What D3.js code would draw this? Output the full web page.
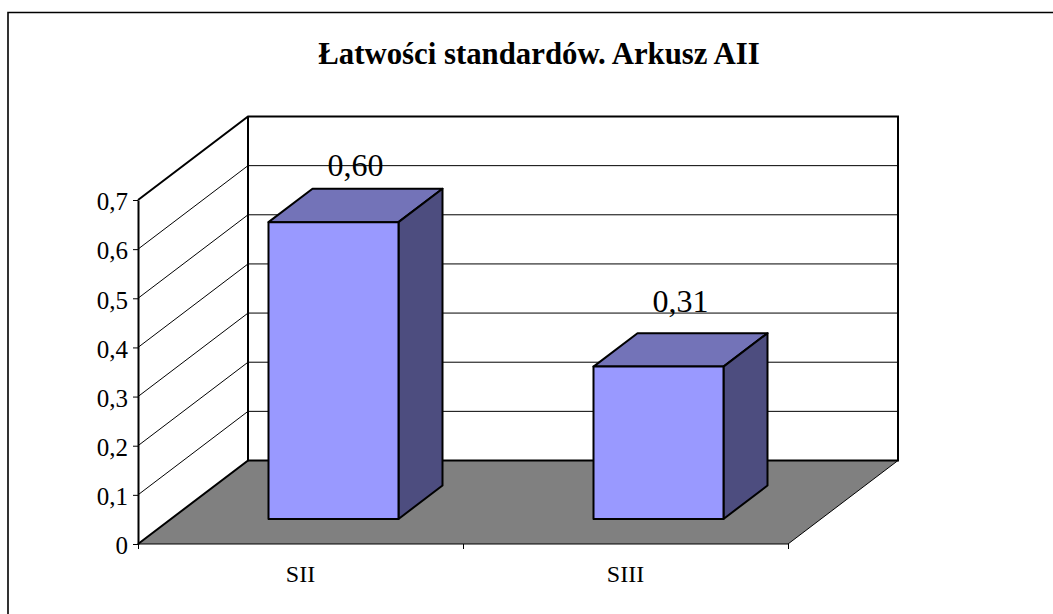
<!DOCTYPE html>
<html><head><meta charset="utf-8">
<script src="https://cdn.jsdelivr.net/npm/d3@7"></script>
<style>html,body{margin:0;padding:0;background:#fff}svg{display:block}text{font-family:"Liberation Serif",serif;fill:#000}</style>
</head><body><div id="c"></div>
<script>
const categories = ["SII", "SIII"];
const values = [0.604, 0.31];
const valueLabels = ["0,60", "0,31"];
const tickValues = [0, 0.1, 0.2, 0.3, 0.4, 0.5, 0.6, 0.7];
const tickLabels = ["0", "0,1", "0,2", "0,3", "0,4", "0,5", "0,6", "0,7"];
const titleText = "Łatwości standardów. Arkusz AII";

const W = 1053, H = 614;
const labelLift = [13, 21];
const svg = d3.select("#c").append("svg").attr("width", W).attr("height", H);
const X0 = 138, X1 = 788, Y0 = 544, Y1 = 200, DX = 110, DY = -83.5;
const x = d3.scaleBand().domain(categories).range([X0, X1]);
const y = d3.scaleLinear().domain([0, 0.7]).range([Y0, Y1]);
const line = d3.line();
const P = (a) => line(a) + "Z";

svg.append("path").attr("d", "M8,614V12.5H1053").attr("fill", "none").attr("stroke", "#000").attr("stroke-width", 1.6);
svg.append("text").attr("x", 539).attr("y", 64).attr("text-anchor", "middle")
  .attr("font-size", 30.8).attr("font-weight", "bold").text(titleText);

// walls
svg.append("path").attr("d", P([[X0, y(0)], [X0 + DX, y(0) + DY], [X0 + DX, y(0.7) + DY], [X0, y(0.7)]])).attr("fill", "#fff");
svg.append("path").attr("d", P([[X0, y(0)], [X1, y(0)], [X1 + DX, y(0) + DY], [X0 + DX, y(0) + DY]])).attr("fill", "#808080");

// gridlines
tickValues.forEach(t => {
  if (t > 0 && t < 0.7) {
    svg.append("path").attr("d", line([[X0, y(t)], [X0 + DX, y(t) + DY], [X1 + DX, y(t) + DY]]))
      .attr("fill", "none").attr("stroke", "#000").attr("stroke-width", 1);
  }
});
// wall outlines
svg.append("path").attr("d", line([[X0, y(0.7)], [X0 + DX, y(0.7) + DY], [X1 + DX, y(0.7) + DY], [X1 + DX, y(0) + DY], [X0 + DX, y(0) + DY]]))
  .attr("fill", "none").attr("stroke", "#000").attr("stroke-width", 2);
svg.append("path").attr("d", line([[X0 + DX, y(0.7) + DY], [X0 + DX, y(0) + DY], [X0, y(0)]]))
  .attr("fill", "none").attr("stroke", "#000").attr("stroke-width", 2);
svg.append("path").attr("d", line([[X1, y(0)], [X1 + DX, y(0) + DY]])).attr("fill", "none").attr("stroke", "#000").attr("stroke-width", 1);

// axes
const yAxis = d3.axisLeft(y).tickValues(tickValues).tickFormat((d, i) => tickLabels[i]).tickSize(5).tickSizeOuter(0).tickPadding(5);
const gy = svg.append("g").attr("transform", `translate(${X0},0)`).call(yAxis);
gy.select(".domain").attr("stroke-width", 2);
gy.selectAll("text").attr("font-size", 25).attr("font-family", '"Liberation Serif",serif').attr("dy", "0.39em");
const gx = svg.append("g").attr("transform", `translate(0,${Y0})`);
gx.append("path").attr("d", `M${X0},0H${X1}`).attr("stroke", "#000");
[X0, (X0 + X1) / 2, X1].forEach(v => gx.append("path").attr("d", `M${v + 0.5},0V5`).attr("stroke", "#000"));
categories.forEach(c => {
  gx.append("text").attr("x", x(c) + x.bandwidth() / 2).attr("y", 38).attr("text-anchor", "middle").attr("font-size", 24).text(c);
});

// bars
const barW = x.bandwidth() * 0.4, fx = 0.3, dpt = 0.4;
categories.forEach((c, i) => {
  const l = x(c) + x.bandwidth() * 0.3, r = l + barW;
  const ox = DX * fx, oy = DY * fx;
  const b = y(0) + oy, t = y(values[i]) + oy;
  const dx = DX * dpt, dy = DY * dpt;
  const g = svg.append("g").attr("stroke", "#000").attr("stroke-width", 2).attr("stroke-linejoin", "round");
  g.append("path").attr("d", P([[l + ox, t], [r + ox, t], [r + ox + dx, t + dy], [l + ox + dx, t + dy]])).attr("fill", "#7373b8");
  g.append("path").attr("d", P([[r + ox, t], [r + ox + dx, t + dy], [r + ox + dx, b + dy], [r + ox, b]])).attr("fill", "#4d4d7f");
  g.append("path").attr("d", P([[l + ox, t], [r + ox, t], [r + ox, b], [l + ox, b]])).attr("fill", "#9999ff");
  svg.append("text").attr("x", (l + r) / 2 + ox + dx / 2).attr("y", t + dy - labelLift[i]).attr("text-anchor", "middle").attr("font-size", 32).text(valueLabels[i]);
});
</script></body></html>
